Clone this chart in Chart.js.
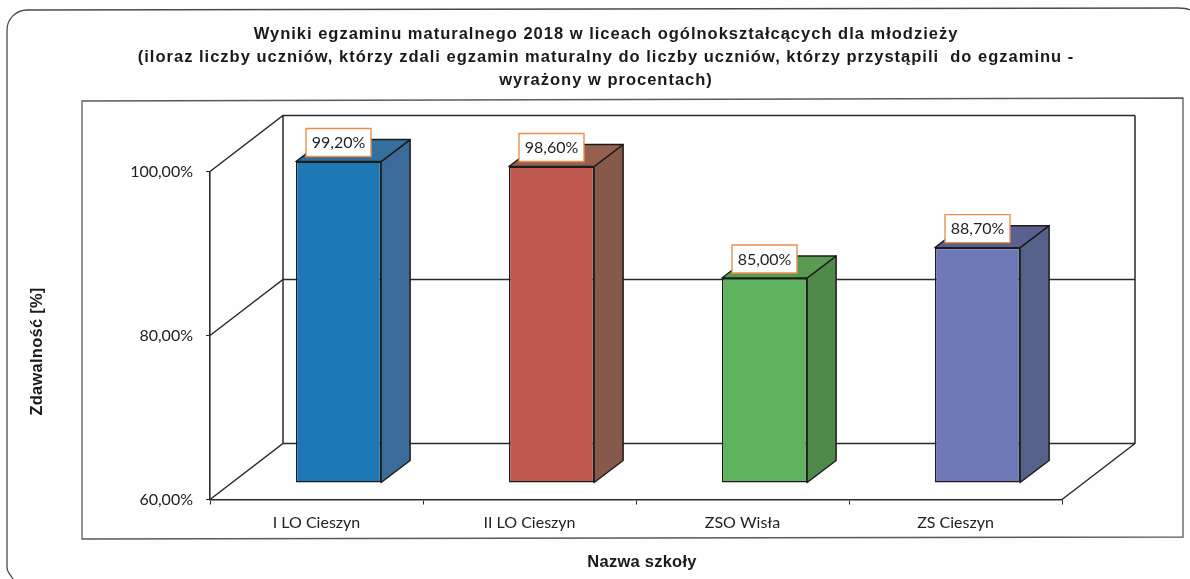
<!DOCTYPE html>
<html lang="pl">
<head>
<meta charset="utf-8">
<script src="https://cdn.jsdelivr.net/npm/chart.js@4"></script>
<style>html,body{margin:0;padding:0;background:#fff}canvas{display:block}</style>
</head>
<body>
<canvas id="c" width="1190" height="579"></canvas>
<script>
const categories = ["I LO Cieszyn", "II LO Cieszyn", "ZSO Wisła", "ZS Cieszyn"];
const values = [99.2, 98.6, 85.0, 88.7];
const titleLines = [
  "Wyniki egzaminu maturalnego 2018 w liceach ogólnokształcących dla młodzieży",
  "(iloraz liczby uczniów, którzy zdali egzamin maturalny do liczby uczniów, którzy przystąpili  do egzaminu -",
  "wyrażony w procentach)"
];
const yAxisTitle = "Zdawalność [%]";
const xAxisTitle = "Nazwa szkoły";
const frontColors = ["#1f78b6", "#c05a50", "#5fb35e", "#6f78b8"];
const sideColors  = ["#3b6c99", "#87594a", "#4f8a4b", "#566189"];
const topColors   = ["#346f9e", "#96604f", "#5a9a52", "#5b6091"];

const WALL_DX = 73, WALL_DY = -56;   // depth of the floor and walls
const BAR_DX = 22, BAR_DY = -16.5;   // offset of bars into the floor
const BAR_DEPTH_X = 29, BAR_DEPTH_Y = -22;
const INK = "#2a2a2a";
const fmt = v => v.toFixed(2).replace(".", ",") + "%";

const scene = {
  id: "scene",
  beforeDraw(chart) {
    const ctx = chart.ctx;
    ctx.save();
    ctx.fillStyle = "#fefefe";
    ctx.fillRect(0, 0, chart.width, chart.height);
    // outer rounded frame
    ctx.strokeStyle = "#4a4a4a"; ctx.lineWidth = 1.3;
    ctx.beginPath();
    ctx.moveTo(13, 579);
    ctx.arcTo(7, 570, 7, 40, 10);
    ctx.lineTo(7, 30);
    ctx.arcTo(7, 10, 30, 10, 20);
    ctx.lineTo(1178, 8);
    ctx.quadraticCurveTo(1186, 8, 1190, 10);
    ctx.stroke();
    // inner frame
    ctx.strokeStyle = "#5a5a5a"; ctx.lineWidth = 1.3;
    ctx.beginPath();
    ctx.moveTo(82, 101); ctx.lineTo(1183, 98); ctx.lineTo(1183, 537); ctx.lineTo(82, 539); ctx.closePath();
    ctx.stroke();
    // title
    ctx.font = "bold 16.5px 'Liberation Sans'";
    ctx.letterSpacing = "1px";
    ctx.fillStyle = "#1a1a1a";
    ctx.textAlign = "center"; ctx.textBaseline = "middle";
    titleLines.forEach((line, i) => ctx.fillText(line, 606, 34.5 + i * 23));
    // axis titles
    ctx.letterSpacing = "0.25px";
    ctx.fillText(xAxisTitle, 642, 562);
    ctx.translate(37, 351.5);
    ctx.rotate(-Math.PI / 2);
    ctx.fillText(yAxisTitle, 0, 0);
    ctx.letterSpacing = "0px";
    ctx.restore();
  },
  beforeDatasetsDraw(chart) {
    const ctx = chart.ctx, y = chart.scales.y, a = chart.chartArea;
    ctx.save();
    ctx.strokeStyle = INK; ctx.lineWidth = 1.5;
    const ticks = y.ticks.map(t => y.getPixelForValue(t.value));
    ctx.beginPath();
    ticks.forEach(py => {
      ctx.moveTo(a.left, py);
      ctx.lineTo(a.left + WALL_DX, py + WALL_DY);
      ctx.lineTo(a.right + WALL_DX, py + WALL_DY);
    });
    ctx.moveTo(a.left + WALL_DX, a.top + WALL_DY);
    ctx.lineTo(a.left + WALL_DX, a.bottom + WALL_DY);
    ctx.moveTo(a.right + WALL_DX, a.top + WALL_DY);
    ctx.lineTo(a.right + WALL_DX, a.bottom + WALL_DY);
    ctx.lineTo(a.right, a.bottom);
    ctx.stroke();
    ctx.restore();
    // bars stand inside the floor
    ctx.save();
    ctx.translate(BAR_DX, BAR_DY);
  },
  afterDatasetsDraw(chart) {
    const ctx = chart.ctx;
    chart.getDatasetMeta(0).data.forEach((bar, i) => {
      const r = bar.x + bar.width / 2, l = bar.x - bar.width / 2, t = bar.y, b = bar.base;
      ctx.strokeStyle = "#1c1c1c"; ctx.lineWidth = 1.5; ctx.lineJoin = "round";
      ctx.fillStyle = sideColors[i];
      ctx.beginPath();
      ctx.moveTo(r, t); ctx.lineTo(r + BAR_DEPTH_X, t + BAR_DEPTH_Y);
      ctx.lineTo(r + BAR_DEPTH_X, b + BAR_DEPTH_Y); ctx.lineTo(r, b); ctx.closePath();
      ctx.fill(); ctx.stroke();
      ctx.fillStyle = topColors[i];
      ctx.beginPath();
      ctx.moveTo(l, t); ctx.lineTo(l + BAR_DEPTH_X, t + BAR_DEPTH_Y);
      ctx.lineTo(r + BAR_DEPTH_X, t + BAR_DEPTH_Y); ctx.lineTo(r, t); ctx.closePath();
      ctx.fill(); ctx.stroke();
    });
    ctx.restore();
    // value labels
    ctx.save();
    ctx.font = "16px Lato";
    ctx.textAlign = "center"; ctx.textBaseline = "middle";
    chart.getDatasetMeta(0).data.forEach((bar, i) => {
      const cx = bar.x + BAR_DX, top = bar.y + BAR_DY;
      const bw = 65, bh = 28, gap = 5;
      ctx.fillStyle = "#fff"; ctx.strokeStyle = "#e98f4e"; ctx.lineWidth = 1.4;
      ctx.beginPath();
      ctx.rect(cx - bw / 2, top - gap - bh, bw, bh);
      ctx.fill(); ctx.stroke();
      ctx.fillStyle = "#1a2228";
      ctx.fillText(fmt(values[i]), cx, top - gap - bh / 2 + 0.5);
    });
    ctx.restore();
  }
};

new Chart(document.getElementById("c"), {
  type: "bar",
  data: {
    labels: categories,
    datasets: [{
      data: values,
      base: 60,
      backgroundColor: frontColors,
      borderColor: "#1c1c1c",
      borderWidth: 1.5,
      borderSkipped: false,
      barPercentage: 0.4,
      categoryPercentage: 1,
      clip: false
    }]
  },
  plugins: [scene],
  options: {
    responsive: false,
    animation: false,
    layout: { padding: { left: 0, right: 128, top: 171.5, bottom: 0 } },
    plugins: {
      legend: { display: false },
      tooltip: { enabled: false },
      title: { display: false }
    },
    scales: {
      x: {
        afterFit(s) { s.height = 79.5; },
        border: { color: INK, width: 1.6 },
        grid: { drawOnChartArea: false, color: INK, tickLength: 5 },
        ticks: { color: "#222", font: { family: "Lato", size: 16 }, padding: 9, maxRotation: 0 }
      },
      y: {
        min: 60, max: 100,
        afterFit(s) { s.width = 210; },
        border: { color: INK, width: 1.6 },
        grid: { drawOnChartArea: false, color: INK, tickLength: 4 },
        ticks: { stepSize: 20, color: "#222", font: { family: "Lato", size: 16 }, padding: 13, callback: v => fmt(v) }
      }
    }
  }
});
</script>
</body>
</html>
